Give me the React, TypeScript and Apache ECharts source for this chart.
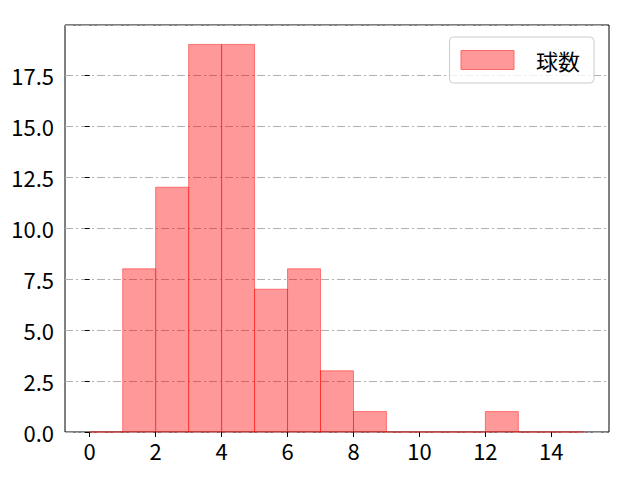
import React, { useEffect, useRef } from 'react';
import * as echarts from 'echarts';

// ビンの左端と度数（幅 1）
const binStarts = [0, 1, 2, 3, 4, 5, 6, 7, 8, 9, 10, 11, 12, 13, 14];
const counts = [0, 8, 12, 19, 19, 7, 8, 3, 1, 0, 0, 0, 1, 0, 0];
const xTicks = [0, 2, 4, 6, 8, 10, 12, 14];
const seriesName = '球数';

const FONT = '"Noto Sans CJK JP", "Noto Sans", sans-serif';

const App: React.FC = () => {
  const chartRef = useRef<HTMLDivElement>(null);

  useEffect(() => {
    if (!chartRef.current) return;
    document.body.style.margin = '0';
    const chart = echarts.init(chartRef.current, undefined, { renderer: 'svg' });

    const data = binStarts.map((s, i) => [s, s + 1, counts[i]]);

    chart.setOption({
      animation: false,
      textStyle: { fontFamily: FONT },
      grid: {
        left: 65,
        right: 31,
        top: 25,
        bottom: 48,
        show: true,
        borderColor: '#000',
        borderWidth: 1,
        backgroundColor: 'transparent'
      },
      legend: {
        data: [
          {
            name: seriesName,
            icon: 'rect',
            itemStyle: { color: '#ff9999', borderColor: '#ff6666', borderWidth: 1 }
          }
        ],
        right: 46,
        top: 37,
        padding: [12, 14, 12, 11],
        itemWidth: 53,
        itemHeight: 19,
        borderColor: '#cccccc',
        borderWidth: 1,
        borderRadius: 4,
        backgroundColor: 'rgba(255,255,255,0.8)',
        textStyle: { fontFamily: FONT, fontSize: 22, color: '#000', padding: [0, 0, 0, 17] }
      },
      xAxis: {
        type: 'value',
        min: -0.75,
        max: 15.75,
        axisLine: { show: false },
        splitLine: { show: false },
        axisTick: {
          show: true,
          length: 5,
          lineStyle: { color: '#000' },
          customValues: xTicks
        },
        axisLabel: {
          color: '#000',
          fontSize: 22,
          margin: 7,
          customValues: xTicks
        }
      },
      yAxis: {
        type: 'value',
        min: 0,
        max: 19.95,
        interval: 2.5,
        axisLine: { show: false },
        axisTick: { show: true, length: 5, lineStyle: { color: '#000' } },
        axisLabel: {
          color: '#000',
          fontSize: 22,
          margin: 11,
          showMaxLabel: false,
          formatter: (v: number) => (Math.abs(v / 2.5 - Math.round(v / 2.5)) < 1e-6 ? v.toFixed(1) : '')
        },
        splitLine: {
          show: true,
          lineStyle: { color: '#b0b0b0', width: 1, type: [8, 3, 2, 3] }
        }
      },
      series: [
        {
          name: seriesName,
          type: 'custom',
          itemStyle: { color: '#ff9999' },
          encode: { x: [0, 1], y: 2 },
          data,
          renderItem: (params: any, api: any) => {
            const p0 = api.coord([api.value(0), 0]);
            const p1 = api.coord([api.value(1), api.value(2)]);
            return {
              type: 'rect',
              shape: { x: p0[0], y: p1[1], width: p1[0] - p0[0], height: p0[1] - p1[1] },
              style: {
                fill: 'rgba(255,0,0,0.4)',
                stroke: 'rgba(255,0,0,0.45)',
                lineWidth: 1
              }
            };
          }
        }
      ]
    });

    return () => {
      chart.dispose();
    };
  }, []);

  return <div ref={chartRef} style={{ width: 640, height: 480 }} />;
};

export default App;
